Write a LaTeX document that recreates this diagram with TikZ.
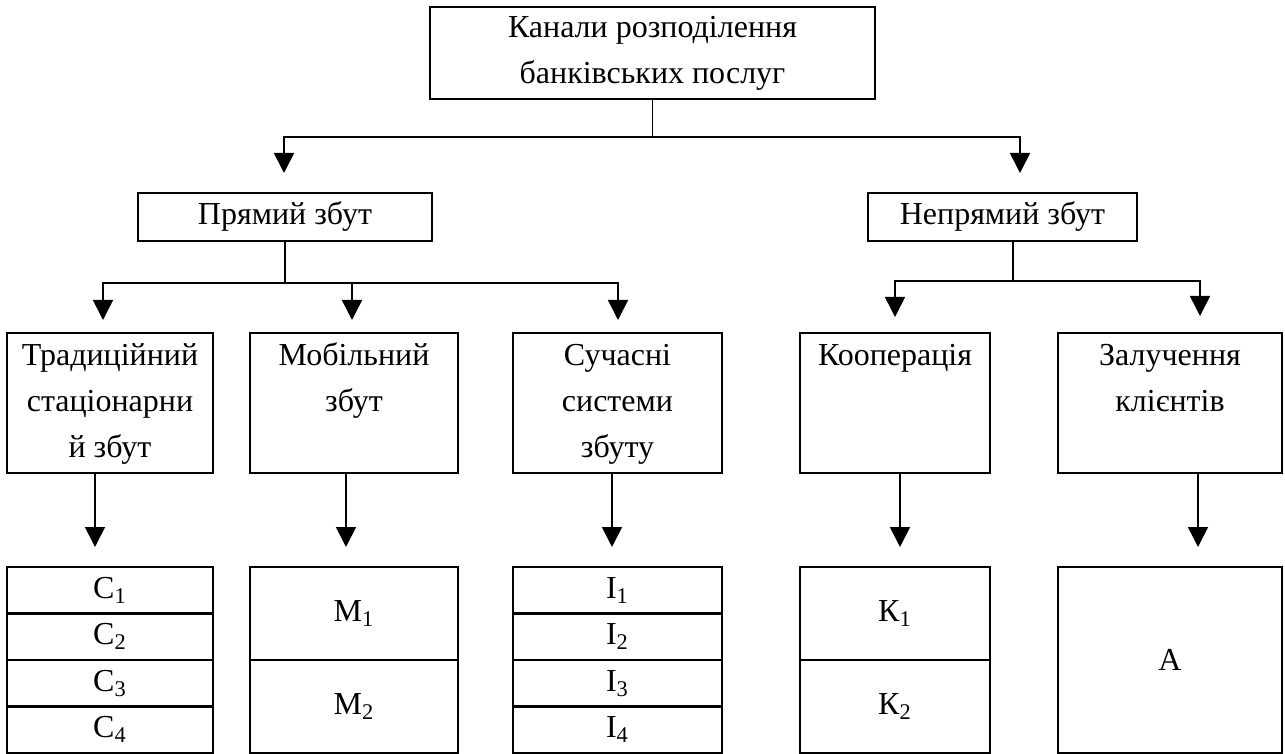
\documentclass[tikz,border=0pt]{standalone}
\usepackage{fontspec}
\setmainfont{Liberation Serif}
\usetikzlibrary{arrows.meta}

\begin{document}
\begin{tikzpicture}[
  x=0.5pt, y=-0.5pt,
  font=\fontsize{16pt}{23pt}\selectfont,
  >={Triangle[width=10pt,length=10pt]},
  % plain framed box, borders meet exactly when stacked
  box/.style={draw, line width=1.4pt, inner sep=0pt, outer sep=0pt},
  % channel box: text sits at the top, fixed height
  catbox/.style={box,
    execute at begin node={\begin{minipage}[t][70pt][t]{#1}\centering\strut},
    execute at end node={\end{minipage}}},
  % one row of a result column
  cell/.style={box, minimum width=#1},
  conn/.style={line width=0.8pt},
]

% white page, fixes the canvas size
\path[fill=white, use as bounding box] (0,0) rectangle (1285,754);

% ---------------------------------------------------------------
% Level 1 and 2
% ---------------------------------------------------------------
\node[box, align=center, minimum width=222.5pt, minimum height=46pt]
  (kanaly) at (652.5,53) {Канали розподілення\\банківських послуг};

\node[box, minimum width=147pt, minimum height=24pt]
  (pryamyi) at (285,217) {Прямий збут};
\node[box, minimum width=134.5pt, minimum height=24pt]
  (nepryamyi) at (1002.5,217) {Непрямий збут};

\coordinate (jtop) at (652.5,137);
\coordinate (tl) at (284,173);
\coordinate (tr) at (1020,173);

\draw[conn] (kanaly.south) -- (jtop);
\draw[conn, ->] (jtop) -| (tl);
\draw[conn, ->] (jtop) -| (tr);

% ---------------------------------------------------------------
% Level 3: channels
% ---------------------------------------------------------------
\node[catbox=103pt] (trad) at (110,403) {Традиційний\\стаціонарни\\й збут};
\node[catbox=104pt] (mobile) at (354,403) {Мобільний\\збут};
\node[catbox=104.5pt] (modern) at (617.5,403) {Сучасні\\системи\\збуту};
\node[catbox=95pt] (coop) at (895,403) {Кооперація};
\node[catbox=112pt] (attract) at (1170,403) {Залучення\\клієнтів};

% direct sales branch
\coordinate (jdir) at (285,283);
\coordinate (t1) at (103,320);
\coordinate (t2) at (352,320);
\coordinate (t3) at (618,320);

\draw[conn] (pryamyi.south) -- (jdir);
\draw[conn, ->] (jdir) -| (t1);
\draw[conn, ->] (jdir) -| (t3);
\draw[conn, ->] (t2 |- jdir) -- (t2);

% indirect sales branch
\coordinate (jind) at (1013,281);
\coordinate (t4) at (895,317);
\coordinate (t5) at (1200,316);

\draw[conn] (nepryamyi.south -| jind) -- (jind);
\draw[conn, ->] (jind) -| (t4);
\draw[conn, ->] (jind) -| (t5);

% ---------------------------------------------------------------
% Level 4: result columns
% ---------------------------------------------------------------
\foreach \i in {1,...,4} {
  \node[cell=103pt, minimum height=23.25pt]
    (c\i) at (110,{567+46.5*(\i-0.5)}) {С\textsubscript{\i}};
  \node[cell=104.5pt, minimum height=23.25pt]
    (i\i) at (617.5,{567+46.5*(\i-0.5)}) {I\textsubscript{\i}};
}
\foreach \i in {1,2} {
  \node[cell=104pt, minimum height=46.5pt]
    (m\i) at (354,{567+93*(\i-0.5)}) {М\textsubscript{\i}};
  \node[cell=95pt, minimum height=46.5pt]
    (k\i) at (895,{567+93*(\i-0.5)}) {К\textsubscript{\i}};
}
\node[cell=112pt, minimum height=93pt] (a) at (1170,660) {А};

% arrows down to the columns
\coordinate (d1) at (95,547);
\coordinate (d2) at (346,547);
\coordinate (d3) at (612,547);
\coordinate (d4) at (900,547);
\coordinate (d5) at (1198,547);

\draw[conn, ->] (trad.south -| d1) -- (d1);
\draw[conn, ->] (mobile.south -| d2) -- (d2);
\draw[conn, ->] (modern.south -| d3) -- (d3);
\draw[conn, ->] (coop.south -| d4) -- (d4);
\draw[conn, ->] (attract.south -| d5) -- (d5);

\end{tikzpicture}
\end{document}
